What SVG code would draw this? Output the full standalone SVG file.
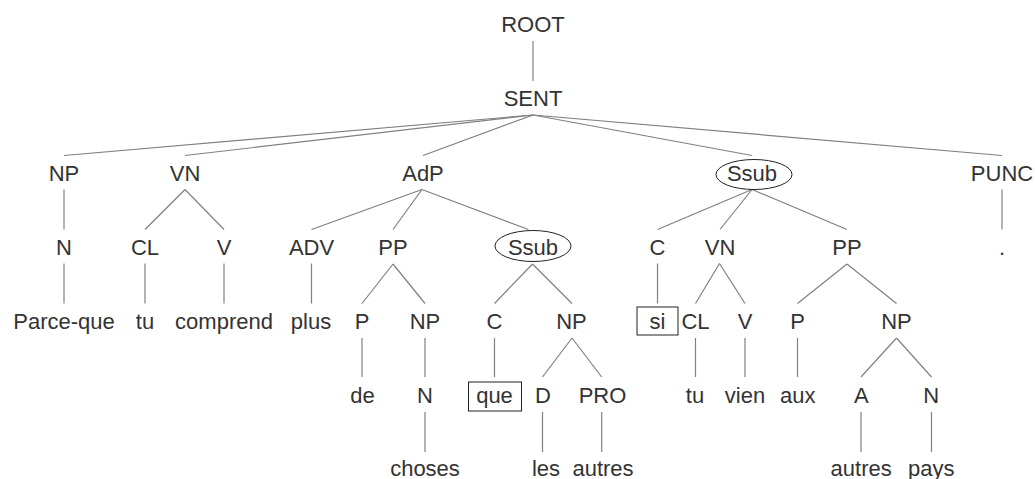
<svg xmlns="http://www.w3.org/2000/svg" width="1035" height="479" viewBox="0 0 1035 479">
<style>
text{font-family:"Liberation Sans",Arial,sans-serif;font-size:22px;fill:#333;text-anchor:middle}
.e{fill:none;stroke:#222;stroke-width:1}
.b{fill:none;stroke:#222;stroke-width:1}
#edges line{stroke:#808080;stroke-width:1.2}
</style>
<rect width="1035" height="479" fill="#fff"/>
<g id="edges">
<line x1="533" y1="41" x2="533" y2="81"/>
<line x1="533" y1="115" x2="64" y2="155.5"/>
<line x1="533" y1="115" x2="185" y2="155.5"/>
<line x1="533" y1="115" x2="423" y2="155.5"/>
<line x1="533" y1="115" x2="752" y2="155.5"/>
<line x1="533" y1="115" x2="1002" y2="155.5"/>
<line x1="64" y1="189.5" x2="64" y2="229.5"/>
<line x1="185" y1="189.5" x2="145" y2="229.5"/>
<line x1="185" y1="189.5" x2="224" y2="229.5"/>
<line x1="422" y1="189.5" x2="311.5" y2="229.5"/>
<line x1="422" y1="189.5" x2="393" y2="229.5"/>
<line x1="422" y1="189.5" x2="528.5" y2="229.5"/>
<line x1="752" y1="189.5" x2="657.5" y2="229.5"/>
<line x1="752" y1="189.5" x2="720" y2="229.5"/>
<line x1="752" y1="189.5" x2="847" y2="229.5"/>
<line x1="1002" y1="189.5" x2="1002" y2="229.5"/>
<line x1="64" y1="263.5" x2="64" y2="303.5"/>
<line x1="145" y1="263.5" x2="145" y2="303.5"/>
<line x1="224" y1="263.5" x2="224" y2="303.5"/>
<line x1="311.5" y1="263.5" x2="311.5" y2="303.5"/>
<line x1="393" y1="264" x2="362" y2="303.5"/>
<line x1="393" y1="264" x2="425" y2="303.5"/>
<line x1="532.5" y1="264" x2="494.5" y2="303.5"/>
<line x1="532.5" y1="264" x2="572" y2="303.5"/>
<line x1="657.5" y1="263.5" x2="657.5" y2="303.5"/>
<line x1="719.5" y1="263.5" x2="695.5" y2="303.5"/>
<line x1="719.5" y1="263.5" x2="745" y2="303.5"/>
<line x1="847" y1="264" x2="797.5" y2="303.5"/>
<line x1="847" y1="264" x2="896.5" y2="303.5"/>
<line x1="362" y1="338" x2="362" y2="377"/>
<line x1="425" y1="338" x2="425" y2="377"/>
<line x1="494.5" y1="338" x2="494.5" y2="377"/>
<line x1="572" y1="338" x2="542.5" y2="377"/>
<line x1="572" y1="338" x2="601.7" y2="377"/>
<line x1="695.5" y1="338" x2="695.5" y2="377"/>
<line x1="745" y1="338" x2="745" y2="377"/>
<line x1="797.5" y1="338" x2="797.5" y2="377"/>
<line x1="896.5" y1="338" x2="861" y2="377"/>
<line x1="896.5" y1="338" x2="931.5" y2="377"/>
<line x1="425" y1="412" x2="425" y2="452"/>
<line x1="542.5" y1="412" x2="542.5" y2="452"/>
<line x1="601.7" y1="412" x2="601.7" y2="452"/>
<line x1="861" y1="412" x2="861" y2="452"/>
<line x1="931.5" y1="412" x2="931.5" y2="452"/>
</g>
<g id="n-root"><text x="533" y="32">ROOT</text></g>
<g id="n-sent"><text x="533" y="106">SENT</text></g>
<g id="n-np1"><text x="64" y="180.5">NP</text></g>
<g id="n-vn1"><text x="185" y="180.5">VN</text></g>
<g id="n-adp"><text x="423" y="180.5">AdP</text></g>
<g id="n-ssub1"><ellipse class="e" cx="754" cy="174.5" rx="38" ry="15"/><text x="752" y="180.5">Ssub</text></g>
<g id="n-punc"><text x="1002" y="180.5">PUNC</text></g>
<g id="n-n1"><text x="64" y="254.5">N</text></g>
<g id="n-cl1"><text x="145" y="254.5">CL</text></g>
<g id="n-v1"><text x="224" y="254.5">V</text></g>
<g id="n-adv"><text x="311.5" y="254.5">ADV</text></g>
<g id="n-pp1"><text x="393" y="254.5">PP</text></g>
<g id="n-ssub2"><ellipse class="e" cx="533" cy="246" rx="38" ry="15.5"/><text x="533" y="254.5">Ssub</text></g>
<g id="n-c2"><text x="657.5" y="254.5">C</text></g>
<g id="n-vn2"><text x="720" y="254.5">VN</text></g>
<g id="n-pp2"><text x="847" y="254.5">PP</text></g>
<g id="n-dot"><text x="1002" y="254.5">.</text></g>
<g id="n-parceque"><text x="64" y="328.5">Parce-que</text></g>
<g id="n-tu1"><text x="145" y="328.5">tu</text></g>
<g id="n-comprend"><text x="224" y="328.5">comprend</text></g>
<g id="n-plus"><text x="311" y="328.5">plus</text></g>
<g id="n-p1"><text x="362" y="328.5">P</text></g>
<g id="n-np2"><text x="425" y="328.5">NP</text></g>
<g id="n-c1"><text x="494.5" y="328.5">C</text></g>
<g id="n-np3"><text x="571.5" y="328.5">NP</text></g>
<g id="n-si"><rect class="b" x="637" y="307" width="41" height="28"/><text x="657.5" y="328.5">si</text></g>
<g id="n-cl2"><text x="695.5" y="328.5">CL</text></g>
<g id="n-v2"><text x="745" y="328.5">V</text></g>
<g id="n-p2"><text x="797.5" y="328.5">P</text></g>
<g id="n-np4"><text x="896.5" y="328.5">NP</text></g>
<g id="n-de"><text x="362.5" y="402.5">de</text></g>
<g id="n-n2"><text x="425" y="402.5">N</text></g>
<g id="n-que"><rect class="b" x="468.5" y="382" width="53" height="29"/><text x="494.5" y="402.5">que</text></g>
<g id="n-d"><text x="543" y="402.5">D</text></g>
<g id="n-pro"><text x="602.5" y="402.5">PRO</text></g>
<g id="n-tu2"><text x="695" y="402.5">tu</text></g>
<g id="n-vien"><text x="745" y="402.5">vien</text></g>
<g id="n-aux"><text x="797.8" y="402.5">aux</text></g>
<g id="n-a"><text x="861.3" y="402.5">A</text></g>
<g id="n-n3"><text x="931.2" y="402.5">N</text></g>
<g id="n-choses"><text x="425" y="476">choses</text></g>
<g id="n-les"><text x="546" y="476">les</text></g>
<g id="n-autres1"><text x="603" y="476">autres</text></g>
<g id="n-autres2"><text x="861.2" y="476">autres</text></g>
<g id="n-pays"><text x="931.3" y="476">pays</text></g>
</svg>
